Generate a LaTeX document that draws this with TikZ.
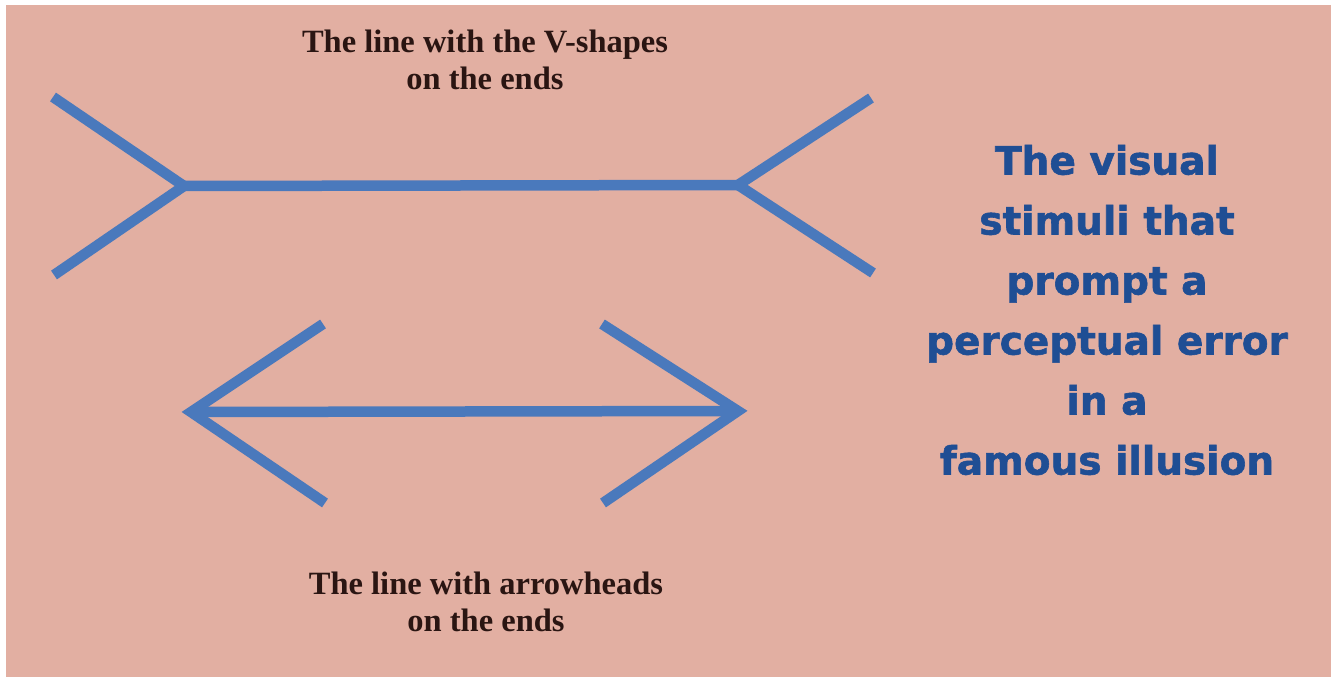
\documentclass[tikz,border=0pt]{standalone}
\usepackage{fontspec}
\setmainfont{Liberation Serif}
\newfontfamily\heavy[BoldFont={DejaVu Sans Bold},BoldFeatures={FakeBold=1.5}]{DejaVu Sans}
\definecolor{bgpink}{HTML}{E2AFA2}
\definecolor{lineblue}{HTML}{4A79BC}
\definecolor{txtblue}{HTML}{1F4E94}
\definecolor{txtdark}{HTML}{2A1512}
\begin{document}
\begin{tikzpicture}[x=1pt,y=-1pt,
  fin/.style={draw=lineblue,line width=10.5pt,line cap=butt,line join=miter},
  smalllabel/.style={font=\fontsize{32.5}{37}\selectfont\bfseries,text=txtdark,align=center,inner sep=0pt},
  biglabel/.style={font=\heavy\fontsize{39}{60}\selectfont\bfseries,text=txtblue,align=center,inner sep=0pt}]
\useasboundingbox (0,0) rectangle (1334,679);
\fill[white] (0,0) rectangle (1334,679);
\fill[bgpink] (6,5) rectangle (1331,677);
% top figure
\coordinate (vl) at (184,186);
\coordinate (vr) at (738,185);
\coordinate (vla) at (53,97);
\coordinate (vlb) at (54,275);
\coordinate (vra) at (871,98);
\coordinate (vrb) at (873,273);
\draw[fin] (vla) -- (vl) -- (vlb);
\draw[fin] (vl) -- (vr);
\draw[fin] (vra) -- (vr) -- (vrb);
% bottom figure
\coordinate (al) at (191,412);
\coordinate (ar) at (738,411);
\coordinate (ala) at (323,324);
\coordinate (alb) at (325,503);
\coordinate (ara) at (602,324);
\coordinate (arb) at (603,503);
\draw[fin] (ala) -- (al) -- (alb);
\draw[fin] (al) -- (ar);
\draw[fin] (ara) -- (ar) -- (arb);
% labels
\node[smalllabel] (toplabel) at (485,60) {The line with the V-shapes\\on the ends};
\node[smalllabel] (botlabel) at (486,602) {The line with arrowheads\\on the ends};
\node[biglabel] (bigtext) at (1107,310) {The visual\\stimuli that\\prompt a\\perceptual error\\in a\\famous illusion};
\end{tikzpicture}
\end{document}
